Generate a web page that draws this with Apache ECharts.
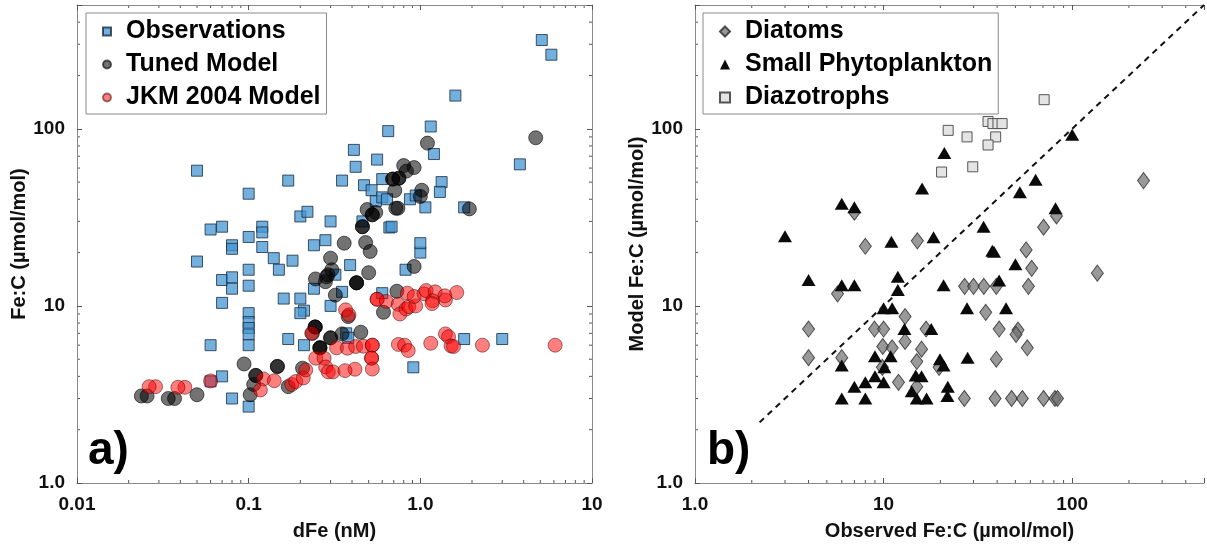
<!DOCTYPE html>
<html>
<head>
<meta charset="utf-8">
<script src="https://cdn.jsdelivr.net/npm/echarts@6/dist/echarts.min.js"></script>
<style>
html, body { margin: 0; padding: 0; background: #fff; }
#main { width: 1207px; height: 550px; }
</style>
</head>
<body>
<div id="main"></div>
<script>
// 左图: dFe (nM) vs Fe:C (µmol/mol)
var observations = [[0.05,58],[0.17,51],[0.1,43],[0.35,51],[0.2,32],[0.22,34],[0.06,27],[0.07,28],[0.12,28],[0.12,26],[0.1,24.5],[0.3,30],[0.28,23.5],[0.24,22],[0.08,22],[0.08,21],[0.12,21.5],[0.14,18.6],[0.18,18],[0.05,17.8],[0.41,76],[0.42,61],[0.15,16],[0.1,16],[0.07,14],[0.08,14.5],[0.08,12.5],[0.1,13],[0.16,11],[0.2,11],[0.07,10.4],[0.21,9.4],[0.2,9.1],[0.24,12.5],[0.3,10],[0.1,9.1],[0.1,8.1],[0.1,7.5],[0.1,6.9],[0.1,6.0],[0.06,6.0],[0.17,6.5],[0.21,6.0],[0.07,4.0],[0.06,3.75],[0.08,3.0],[0.1,2.7],[0.32,15],[0.35,12],[0.39,17],[0.37,7.0],[0.38,6.6],[0.6,11.8],[0.82,16],[1.0,20],[1.0,22.6],[0.91,4.5],[1.8,6.5],[3.0,6.5],[5.1,317],[5.8,262],[1.6,154],[1.15,103],[0.65,97],[1.2,72],[0.56,67],[3.8,63],[0.6,52],[0.47,48],[0.52,45],[1.33,50],[1.3,44],[0.55,39],[0.6,41],[0.64,40],[0.87,40],[0.94,42],[1.07,36],[1.8,36],[0.46,30],[0.66,27.7],[0.68,28]];
var tunedModel = [[0.3,18.6],[0.245,14.2],[0.29,15],[0.28,13.7],[0.32,11.5],[0.094,4.7],[0.147,4.55],[0.147,4.55],[0.11,4.05],[0.11,4.05],[0.107,3.6],[0.102,3.15],[0.05,3.15],[0.037,3.0],[0.034,3.0],[0.0256,3.1],[0.0237,3.1],[0.244,7.6],[0.244,7.6],[0.244,7.6],[0.3,6.6],[0.3,6.6],[0.235,7.0],[0.26,5.8],[0.26,5.8],[0.26,5.8],[0.17,3.5],[0.206,4.45],[0.51,20.3],[0.305,16],[0.5,15.4],[0.92,16.7],[0.73,12.1],[0.61,9.2],[0.38,8.7],[0.35,6.95],[0.45,7.1],[0.425,13.5],[0.425,13.5],[0.425,13.5],[0.284,14.6],[0.36,22.6],[0.48,22.8],[4.7,89],[1.1,83],[0.8,62],[0.83,57.7],[0.92,60.4],[0.69,52],[0.69,52],[0.75,52.6],[0.75,52.6],[0.71,44.8],[1.02,45],[1.0,41.5],[0.49,35],[0.525,32.7],[0.525,32.7],[0.55,33.7],[0.72,35.6],[0.74,35.6],[0.46,28],[0.46,28],[1.93,35.3]];
var jkmModel = [[0.0287,3.5],[0.0263,3.5],[0.0425,3.47],[0.0387,3.47],[0.06,3.77],[0.122,3.87],[0.141,3.78],[0.117,3.35],[0.178,3.6],[0.188,3.74],[0.208,3.92],[0.215,4.35],[0.233,7.0],[0.246,5.07],[0.275,5.07],[0.281,4.52],[0.291,4.24],[0.31,4.24],[0.325,5.8],[0.376,5.77],[0.42,5.9],[0.466,5.92],[0.525,6.0],[0.525,6.0],[0.52,5.07],[0.52,5.07],[0.525,4.4],[0.416,4.39],[0.364,4.31],[0.367,9.5],[0.384,8.9],[0.56,10.9],[0.56,10.9],[0.634,10.6],[0.743,10.2],[0.76,9.0],[0.826,9.6],[0.857,9.9],[0.94,10],[0.84,11.8],[0.92,11.3],[1.05,11.7],[1.08,12.2],[1.22,12.0],[1.18,10.7],[1.17,10.3],[1.4,10.8],[1.39,11.4],[1.63,11.9],[0.745,6.06],[0.81,6.0],[0.85,5.6],[1.15,6.15],[1.4,6.95],[1.46,6.7],[1.51,5.94],[1.56,5.9],[2.3,6.0],[6.1,6.0]];

// 右图: Observed Fe:C vs Model Fe:C
var diatoms = [[7.0,33.8],[8.0,21.7],[15.1,23.3],[239,51],[70.5,27.8],[82.6,32.2],[57,20.7],[61,16.3],[5.7,11.7],[26.9,12.9],[30,12.9],[34,12.9],[39.6,12.9],[58.6,12.9],[34.8,9.2],[13,8.7],[4.0,7.4],[8.95,7.4],[10,7.4],[16.8,7.4],[41,7.4],[51.6,7.3],[50.4,6.9],[13,6.3],[9.9,5.9],[11.1,5.8],[15.9,5.7],[15,4.85],[39.6,5.0],[57.8,5.8],[4.0,5.1],[6.0,5.1],[9.85,4.5],[19.7,4.5],[12,3.7],[15,3.5],[26.8,3.0],[39,3.0],[47.7,3.0],[54.4,3.0],[70.5,3.0],[81,3.0],[83.6,3.0],[136,15.3]];
var smallPhyto = [[21,73],[16,46],[6.0,37.7],[7.0,36],[3.0,24.7],[11,23],[18.4,24.4],[100,92.5],[64,51.5],[52.8,43.8],[81.6,35.6],[33.9,28],[37.7,20.5],[38.5,20.2],[50,17.2],[4.0,14],[11.9,14.6],[11.9,12.3],[6.0,13.1],[7.0,13.1],[20.8,13.1],[41,13.9],[10,9.7],[11.1,9.7],[27.7,9.7],[44.6,9.7],[12.9,7.4],[17.9,7.4],[9.0,5.2],[10.9,5.2],[10.1,4.5],[6.0,4.6],[19.9,5.0],[20.8,4.6],[27.9,5.1],[9.0,4.0],[8.0,3.7],[7.0,3.5],[10,3.7],[14.8,4.05],[15.9,4.0],[21.9,3.5],[21.8,3.1],[14.1,3.3],[15,3.0],[16.9,3.0],[6.0,3.0],[8.0,3.0]];
var diazotrophs = [[22,98],[27.7,90],[20.3,57],[71,146],[35.8,110],[38,107],[40.4,107],[42.5,107],[39.3,90],[35.8,81],[29.7,61]];
var oneToOne = [[2.2,2.2],[500,500]];

// 坐标轴范围和刻度
var leftXRange = [0.01, 10];
var rightXRange = [1, 500];
var yRange = [1, 500];
var minorSteps = [2, 3, 4, 5, 6, 7, 8, 9];

var FONT = "'Liberation Sans', Arial, Helvetica, sans-serif";
var AXIS_COLOR = '#8a8a8a';

function decadeLabel(v) {
	var l = Math.log(v) / Math.LN10;
	if (Math.abs(l - Math.round(l)) > 1e-6) return '';
	return v === 1 ? '1.0' : String(+v.toPrecision(1));
}

function logAxis(gridIndex, position, range, name, nameGap) {
	var main = !!name;
	return {
		type: 'log',
		logBase: 10,
		gridIndex: gridIndex,
		position: position,
		min: range[0],
		max: range[1],
		name: name || '',
		nameLocation: 'middle',
		nameGap: nameGap || 0,
		nameTextStyle: { fontFamily: FONT, fontSize: 20, fontWeight: 'bold', color: '#111' },
		axisLine: { show: true, lineStyle: { color: AXIS_COLOR, width: 1 } },
		axisTick: { show: true, inside: true, length: 5, lineStyle: { color: '#555', width: 1 } },
		axisLabel: {
			show: main,
			margin: 12,
			formatter: decadeLabel,
			fontFamily: FONT, fontSize: 19, fontWeight: 'bold', color: '#111'
		},
		splitLine: { show: false }
	};
}

function legendBox(names, left, iconSize) {
	return {
		data: names,
		orient: 'vertical', left: left, top: 13,
		padding: [6, 6, 4, 16], itemGap: 8, itemWidth: iconSize, itemHeight: iconSize,
		borderColor: AXIS_COLOR, borderWidth: 1, backgroundColor: '#fff',
		selectedMode: false,
		textStyle: { fontFamily: FONT, fontSize: 25, fontWeight: 'bold', color: '#000', padding: [0, 0, 0, 10] }
	};
}

var chart = echarts.init(document.getElementById('main'));

var option = {
	animation: false,
	grid: [
		{ left: 77, right: 615, top: 5, bottom: 67 },
		{ left: 695, right: -9, top: 5, bottom: 67 }
	],
	xAxis: [
		logAxis(0, 'bottom', leftXRange, 'dFe (nM)', 38),
		logAxis(0, 'top', leftXRange),
		logAxis(1, 'bottom', rightXRange, 'Observed Fe:C (µmol/mol)', 38),
		logAxis(1, 'top', rightXRange)
	],
	yAxis: [
		logAxis(0, 'left', yRange, 'Fe:C (µmol/mol)', 48),
		logAxis(0, 'right', yRange),
		logAxis(1, 'left', yRange, 'Model Fe:C (µmol/mol)', 44)
	],
	legend: [
		legendBox(['Observations', 'Tuned Model', 'JKM 2004 Model'], 86, 8),
		legendBox(['Diatoms', 'Small Phytoplankton', 'Diazotrophs'], 703, 10)
	],
	series: [{
		name: 'Observations', type: 'scatter', xAxisIndex: 0, yAxisIndex: 0,
		symbol: 'rect', symbolSize: 11, data: observations,
		itemStyle: { opacity: 1, color: 'rgba(70,150,210,0.75)', borderColor: 'rgba(25,45,65,0.8)', borderWidth: 1 }
	}, {
		name: 'Tuned Model', type: 'scatter', xAxisIndex: 0, yAxisIndex: 0,
		symbol: 'circle', symbolSize: 14, data: tunedModel,
		itemStyle: { opacity: 1, color: 'rgba(0,0,0,0.55)', borderColor: 'rgba(0,0,0,0.6)', borderWidth: 1 }
	}, {
		name: 'JKM 2004 Model', type: 'scatter', xAxisIndex: 0, yAxisIndex: 0,
		symbol: 'circle', symbolSize: 14, data: jkmModel,
		itemStyle: { opacity: 1, color: 'rgba(255,0,0,0.5)', borderColor: 'rgba(60,0,0,0.5)', borderWidth: 1 }
	}, {
		name: '1:1', type: 'line', xAxisIndex: 2, yAxisIndex: 2,
		data: oneToOne, symbol: 'none', silent: true,
		lineStyle: { color: '#111', width: 2, type: [6, 5] }
	}, {
		name: 'Diatoms', type: 'scatter', xAxisIndex: 2, yAxisIndex: 2,
		symbol: 'diamond', symbolSize: [12, 16], data: diatoms,
		itemStyle: { opacity: 1, color: 'rgba(110,110,110,0.7)', borderColor: 'rgba(50,50,50,0.85)', borderWidth: 1 }
	}, {
		name: 'Small Phytoplankton', type: 'scatter', xAxisIndex: 2, yAxisIndex: 2,
		symbol: 'triangle', symbolSize: [14, 12], data: smallPhyto,
		itemStyle: { opacity: 1, color: '#0a0a0a', borderWidth: 0 }
	}, {
		name: 'Diazotrophs', type: 'scatter', xAxisIndex: 2, yAxisIndex: 2,
		symbol: 'rect', symbolSize: 10, data: diazotrophs,
		itemStyle: { opacity: 1, color: '#e4e4e4', borderColor: '#555', borderWidth: 1 }
	}],
	graphic: [
		{ type: 'text', left: 88, top: 428, style: { text: 'a)', font: 'bold 46px ' + FONT, fill: '#000' } },
		{ type: 'text', left: 707, top: 428, style: { text: 'b)', font: 'bold 46px ' + FONT, fill: '#000' } }
	]
};
chart.setOption(option);

// 绘制对数副刻度 (2..9)
function minorTickLines(xi, yi, xr, yr, sides) {
	var out = [];
	var style = { stroke: '#555', lineWidth: 1 };
	function push(a, b) {
		out.push({ type: 'line', silent: true, shape: { x1: a[0], y1: a[1], x2: b[0], y2: b[1] }, style: style });
	}
	function eachMinor(r, fn) {
		var d0 = Math.floor(Math.log(r[0]) / Math.LN10 + 1e-9);
		var d1 = Math.ceil(Math.log(r[1]) / Math.LN10 - 1e-9);
		for (var d = d0; d < d1; d++) {
			for (var k = 0; k < minorSteps.length; k++) {
				var v = minorSteps[k] * Math.pow(10, d);
				if (v > r[0] && v < r[1]) fn(v);
			}
		}
	}
	var fin = { xAxisIndex: xi, yAxisIndex: yi };
	eachMinor(xr, function (v) {
		var b = chart.convertToPixel(fin, [v, yr[0]]);
		var t = chart.convertToPixel(fin, [v, yr[1]]);
		push(b, [b[0], b[1] - 3]);
		push(t, [t[0], t[1] + 3]);
	});
	eachMinor(yr, function (v) {
		var l = chart.convertToPixel(fin, [xr[0], v]);
		push(l, [l[0] + 3, l[1]]);
		if (sides === 4) {
			var r = chart.convertToPixel(fin, [xr[1], v]);
			push(r, [r[0] - 3, r[1]]);
		}
	});
	return out;
}

var ticks = minorTickLines(0, 0, leftXRange, yRange, 4).concat(minorTickLines(2, 2, rightXRange, yRange, 3));
chart.setOption({ graphic: option.graphic.concat(ticks) });
</script>
</body>
</html>
